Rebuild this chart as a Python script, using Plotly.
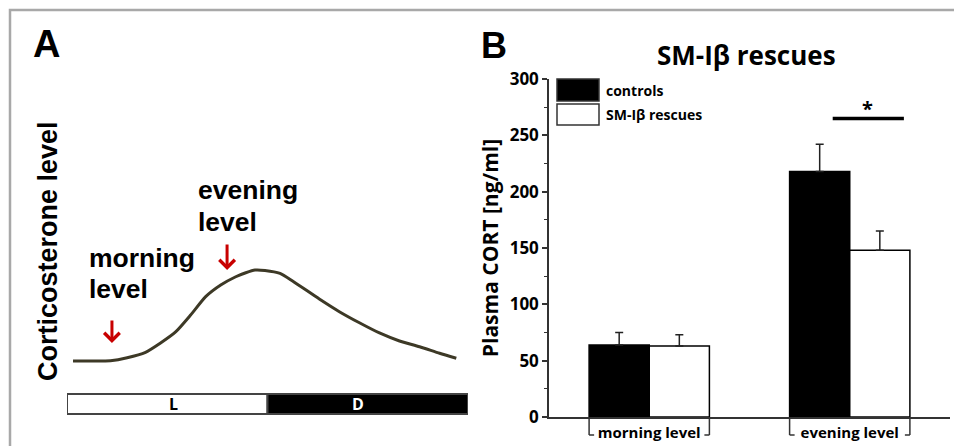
import plotly.graph_objects as go

# ---------------- data ----------------
# Panel A: schematic daily corticosterone rhythm (hours after lights on, relative level)
hours = [0.36, 1.4, 2.6, 3.6, 4.7, 5.6, 6.5, 7.4, 8.3, 9.2, 10.1, 10.7, 11.25, 11.85, 12.75, 13.5, 15.1, 16.3, 17.5, 18.7, 19.9, 21.1, 22.3, 23.3]
levels = [0, 0, 0.3, 3.6, 9.6, 19.8, 31.9, 50.5, 70.7, 83.5, 92.6, 97.0, 100, 99.5, 96.2, 87.9, 68.1, 54.2, 42.0, 30.8, 22.0, 15.7, 8.5, 3.0]
light_periods = ["L", "D"]
light_start = [0, 12]
light_end = [12, 24]
morning_hour = 2.69
evening_hour = 9.58

# Panel B: plasma CORT
categories = ["morning level", "evening level"]
controls = [64, 218]
controls_err = [11, 24]
rescues = [63, 148]
rescues_err = [10, 17]
series_names = ["controls", "SM-I\u03b2 rescues"]
y_ticks = [0, 50, 100, 150, 200, 250, 300]
sig_level = 265

W, H = 954, 446
def px(x):
    return x / W
def py(y):
    return 1 - y / H

ARIAL = "Liberation Sans, Arial, sans-serif"
CAL = "Open Sans, Noto Sans, sans-serif"

fig = go.Figure()

# Panel A curve
fig.add_trace(go.Scatter(
    x=hours, y=levels, mode="lines",
    line=dict(color="#3d3926", width=3, shape="spline", smoothing=0.6),
    xaxis="x", yaxis="y", showlegend=False, hoverinfo="skip"))

# Panel B bars
fig.add_trace(go.Bar(
    x=categories, y=controls, name=series_names[0],
    marker=dict(color="black", line=dict(color="black", width=1.5)),
    error_y=dict(type="data", array=controls_err, arrayminus=[0] * len(controls_err),
                 symmetric=False, color="#222", thickness=1.5, width=4),
    xaxis="x2", yaxis="y2", showlegend=False))
fig.add_trace(go.Bar(
    x=categories, y=rescues, name=series_names[1],
    marker=dict(color="white", line=dict(color="black", width=1.5)),
    error_y=dict(type="data", array=rescues_err, arrayminus=[0] * len(rescues_err),
                 symmetric=False, color="#222", thickness=1.5, width=4),
    xaxis="x2", yaxis="y2", showlegend=False))

shapes = []
annotations = []

def note(text, x, y, size, family=CAL, color="black", xanchor="center", yanchor="middle", **kw):
    annotations.append(dict(text=text, xref=kw.pop("xref", "paper"), yref=kw.pop("yref", "paper"),
                            x=x, y=y, xanchor=xanchor, yanchor=yanchor, showarrow=False,
                            font=dict(family=family, size=size, color=color), **kw))

# outer gray frame (left and top edges)
shapes.append(dict(type="path", xref="paper", yref="paper",
                   path=f"M {px(10)},0 L {px(10)},{py(10)} L 1,{py(10)}",
                   line=dict(color="#a8a8a8", width=2.5)))

# L/D bar
for lab, s, e, fill in zip(light_periods, light_start, light_end, ["white", "black"]):
    shapes.append(dict(type="rect", xref="x", yref="paper", x0=s, x1=e,
                       y0=py(414), y1=py(394), fillcolor=fill,
                       line=dict(color="#444", width=2), layer="below"))
note("<b>L</b>", 6.4, py(404), 16, xref="x")
note("<b>D</b>", 17.4, py(404), 16, color="white", xref="x")

# Red arrows
for hr, tip, tail in [(morning_hour, 343, 319), (evening_hour, 270, 243)]:
    annotations.append(dict(text="", xref="x", yref="paper", x=hr, y=py(tip),
                            ax=0, ay=-(tip - tail), showarrow=True, arrowhead=4,
                            arrowsize=1.0, arrowwidth=3, arrowcolor="#c80000", standoff=0))

# Panel A texts
for txt, x, y in [("morning", 87, 258), ("level", 87, 289), ("evening", 196, 190), ("level", 196, 222)]:
    note(f"<b>{txt}</b>", px(x), py(y), 26.5, family=ARIAL, xanchor="left")
note("<b>Corticosterone level</b>", px(48), py(251), 27, family=ARIAL, textangle=-90)
note("<b>A</b>", px(46), py(44), 38, family=ARIAL)
note("<b>B</b>", px(494), py(46), 36, family=ARIAL)

# Panel B title
note("<b>SM-I\u03b2 rescues</b>", px(746), py(55), 26)

# Legend (manual boxes)
for (y0, y1), fill, name in zip([(79, 101), (104, 125)], ["black", "white"], series_names):
    shapes.append(dict(type="rect", xref="paper", yref="paper", x0=px(557), x1=px(599),
                       y0=py(y1), y1=py(y0), fillcolor=fill,
                       line=dict(color="#333", width=1.5)))
    note(f"<b>{name}</b>", px(604), py((y0 + y1) / 2), 14, xanchor="left")

# Significance bar
shapes.append(dict(type="line", xref="x2", yref="y2", x0=0.915, x1=1.27,
                   y0=sig_level, y1=sig_level, line=dict(color="black", width=3.5)))
note("<b>*</b>", 1.09, sig_level, 20, yanchor="bottom", xref="x2", yref="y2", yshift=-6)

# Brackets under category labels
for i, _ in enumerate(categories):
    for edge, d in [(i - 0.3, 0.025), (i + 0.3, -0.025)]:
        shapes.append(dict(type="line", xref="x2", yref="paper", x0=edge, x1=edge,
                           y0=py(417), y1=py(435), line=dict(color="#333", width=1.5)))
        shapes.append(dict(type="line", xref="x2", yref="paper", x0=edge, x1=edge + d,
                           y0=py(435), y1=py(435), line=dict(color="#333", width=1.5)))

fig.update_layout(
    width=W, height=H, margin=dict(l=0, r=0, t=0, b=0),
    template="none", paper_bgcolor="white", plot_bgcolor="rgba(0,0,0,0)",
    barmode="group", bargap=0.4, bargroupgap=0,
    showlegend=False,
    xaxis=dict(domain=[px(67), px(468)], range=[0, 24], visible=False, anchor="y"),
    yaxis=dict(domain=[0, 1], range=[-93.4, 396.7], visible=False, anchor="x"),
    xaxis2=dict(domain=[px(549), px(950)], anchor="y2", type="category",
                range=[-0.5, 1.5], showline=True, linecolor="#333", linewidth=1.5,
                ticks="", showgrid=False, zeroline=False,
                tickfont=dict(family=CAL, size=15, color="black", weight="bold"),
                ticklabelstandoff=1),
    yaxis2=dict(domain=[py(417), py(79)], anchor="x2", range=[0, 300],
                showline=True, linecolor="#333", linewidth=1.5,
                ticks="outside", ticklen=5, tickwidth=1.5, tickcolor="#333",
                tickvals=y_ticks, showgrid=False, zeroline=False,
                minor=dict(dtick=25, ticks="outside", ticklen=3, tickwidth=1.2, tickcolor="#333"),
                tickfont=dict(family=CAL, size=17, color="black", weight="bold"),
                title=dict(text="Plasma CORT [ng/ml]", standoff=5,
                           font=dict(family=CAL, size=21, color="black", weight="bold"))),
    shapes=shapes, annotations=annotations,
)

fig.write_html("out.html", config={"displayModeBar": False},
               post_script="document.body.style.margin='0px';document.body.style.padding='0px';")
